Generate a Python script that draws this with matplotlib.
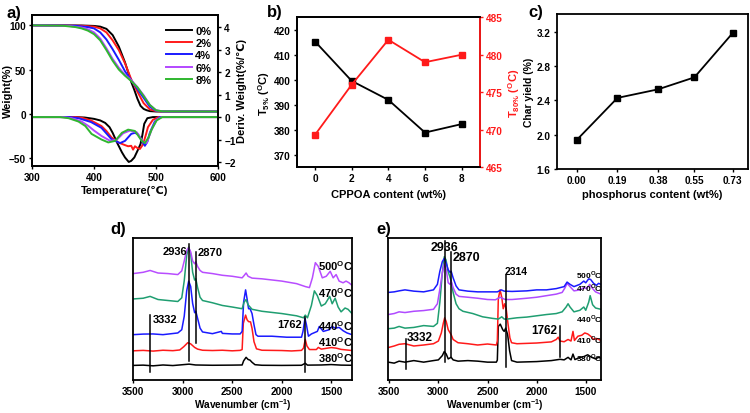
import matplotlib
matplotlib.use("Agg")
import matplotlib.pyplot as plt

plt.rcParams['font.family'] = ['Liberation Sans', 'DejaVu Sans']
plt.rcParams['font.weight'] = 'bold'
plt.rcParams['axes.labelweight'] = 'bold'
plt.rcParams['mathtext.fontset'] = 'custom'
plt.rcParams['mathtext.rm'] = 'Liberation Sans:bold'
plt.rcParams['mathtext.bf'] = 'Liberation Sans:bold'
plt.rcParams['axes.linewidth'] = 1.3

# ---------- panel a: TGA / DTG ----------
tga_labels = ['0%', '2%', '4%', '6%', '8%']
tga_colors = ['#000000', '#ff1a1a', '#1a1aff', '#b347ff', '#2fb72f']

w_temp = [
    [300, 380, 400, 410, 420, 430, 440, 450, 455, 460, 465, 470, 475, 480, 485, 490, 500, 600],
    [300, 380, 400, 410, 420, 430, 440, 450, 460, 470, 480, 490, 500, 510, 600],
    [300, 370, 390, 400, 410, 420, 430, 440, 450, 460, 470, 480, 490, 500, 510, 600],
    [300, 360, 380, 390, 400, 410, 420, 430, 440, 450, 460, 470, 480, 490, 500, 510, 600],
    [300, 350, 370, 380, 390, 400, 410, 420, 430, 440, 450, 460, 470, 480, 490, 500, 510, 600],
]
w_val = [
    [100, 99.8, 99.3, 98.5, 96, 89, 76, 58, 47, 36, 27, 17, 9, 5.5, 4, 3, 2.6, 2.5],
    [100, 99.5, 98.5, 96.5, 92, 83, 72, 57, 39, 25, 12, 5, 3, 2.6, 2.5],
    [100, 99.5, 98, 96.5, 92, 84, 73, 61, 48, 38, 28, 18, 8, 3.5, 2.7, 2.5],
    [100, 99.3, 97.5, 95.5, 92, 85, 74, 62, 52, 44, 38, 30, 21, 10, 4, 2.8, 2.5],
    [100, 99.5, 98, 96.5, 94, 90, 83, 72, 60, 50, 43, 37, 30, 20, 10, 4, 2.8, 2.5],
]
d_temp = [
    [300, 370, 385, 400, 410, 418, 425, 430, 437, 445, 450, 456, 460, 465, 471, 475, 478, 481, 486, 495, 600],
    [300, 370, 380, 395, 412, 420, 428, 439, 450, 455, 460, 463, 466, 470, 474, 479, 483, 487, 495, 504, 600],
    [300, 360, 375, 395, 412, 428, 442, 450, 460, 466, 471, 477, 482, 486, 490, 498, 506, 600],
    [300, 350, 364, 380, 391, 400, 412, 426, 437, 447, 458, 469, 479, 485, 493, 501, 509, 600],
    [300, 345, 359, 375, 386, 396, 412, 423, 434, 445, 455, 466, 477, 482, 488, 493, 501, 510, 600],
]
d_val = [
    [0, 0, -0.02, -0.08, -0.15, -0.26, -0.45, -0.7, -1.13, -1.57, -1.8, -2.0, -1.95, -1.8, -1.45, -1.2, -0.8, -0.3, -0.05, 0, 0],
    [0, 0, -0.03, -0.15, -0.4, -0.62, -0.9, -1.13, -1.25, -1.3, -1.28, -1.45, -1.3, -1.38, -1.42, -1.22, -0.85, -0.45, -0.12, 0, 0],
    [0, 0, -0.05, -0.22, -0.48, -0.98, -1.16, -1.06, -0.75, -0.7, -0.77, -1.05, -1.28, -1.1, -0.7, -0.2, 0, 0],
    [0, 0, -0.05, -0.2, -0.4, -0.6, -0.84, -1.06, -1.0, -0.72, -0.6, -0.68, -1.1, -1.15, -0.55, -0.12, 0, 0],
    [0, 0, -0.05, -0.2, -0.4, -0.75, -1.0, -1.13, -1.06, -0.7, -0.56, -0.62, -1.06, -1.16, -0.9, -0.55, -0.15, 0, 0],
]

# ---------- panel b ----------
cppoa = [0, 2, 4, 6, 8]
t5 = [415.3, 399.5, 391.9, 378.8, 382.2]
t80 = [469.3, 476.0, 482.0, 479.0, 480.0]

# ---------- panel c ----------
phos = [0.00, 0.19, 0.38, 0.55, 0.73]
phos_labels = ['0.00', '0.19', '0.38', '0.55', '0.73']
char = [1.94, 2.43, 2.53, 2.67, 3.19]

# ---------- panel d: FTIR ----------
ir_temps = ['380', '410', '440', '470', '500']
d_colors = ['#000000', '#ff1a1a', '#1a1aff', '#1f9e71', '#b84dff']
d_wn = [
    [3500, 3400, 3300, 3200, 3100, 3000, 2936, 2870, 2700, 2500, 2400, 2385, 2360, 2340, 2320, 2300, 2270, 2200, 2000, 1800, 1762, 1740, 1600, 1500, 1400, 1290],
    [3500, 3400, 3300, 3200, 3100, 3030, 2990, 2950, 2920, 2880, 2850, 2800, 2700, 2600, 2500, 2420, 2400, 2388, 2365, 2350, 2335, 2315, 2300, 2280, 2255, 2200, 2000, 1900, 1800, 1780, 1762, 1745, 1720, 1650, 1630, 1600, 1500, 1450, 1400, 1290],
    [3500, 3400, 3300, 3200, 3100, 3050, 3010, 2985, 2960, 2940, 2920, 2900, 2880, 2868, 2850, 2825, 2800, 2700, 2610, 2600, 2500, 2420, 2400, 2385, 2365, 2350, 2335, 2320, 2300, 2280, 2260, 2240, 2100, 1950, 1800, 1785, 1765, 1750, 1730, 1700, 1640, 1620, 1580, 1520, 1490, 1460, 1420, 1380, 1340, 1290],
    [3500, 3400, 3330, 3250, 3150, 3050, 3010, 2985, 2960, 2940, 2920, 2900, 2880, 2868, 2850, 2825, 2800, 2700, 2600, 2500, 2400, 2380, 2360, 2340, 2300, 2200, 2000, 1850, 1780, 1762, 1740, 1700, 1670, 1640, 1600, 1560, 1515, 1490, 1460, 1430, 1400, 1360, 1330, 1290],
    [3500, 3400, 3330, 3250, 3150, 3050, 3010, 2985, 2960, 2940, 2920, 2900, 2880, 2868, 2850, 2825, 2800, 2700, 2600, 2500, 2400, 2380, 2360, 2340, 2300, 2200, 2000, 1850, 1760, 1720, 1690, 1660, 1630, 1590, 1550, 1510, 1480, 1450, 1420, 1380, 1350, 1320, 1290],
]
d_ab = [
    [10.3, 10.5, 10.0, 10.6, 10.2, 10.8, 11.2, 10.6, 10.4, 10.5, 10.6, 13.5, 16.0, 14.5, 14.0, 12.5, 10.8, 10.4, 10.3, 10.4, 11.8, 10.5, 10.6, 10.9, 10.5, 10.4],
    [20.6, 20.9, 20.4, 21.0, 20.7, 21.2, 23.5, 26.3, 25.5, 23.0, 21.8, 21.0, 20.8, 21.0, 20.6, 20.9, 21.5, 40.0, 45.8, 42.5, 41.2, 41.0, 36.5, 27.0, 22.0, 21.0, 20.8, 20.5, 20.9, 22.5, 28.6, 24.0, 21.5, 21.5, 23.0, 21.8, 22.9, 22.5, 21.6, 20.8],
    [32.0, 32.4, 32.5, 32.0, 32.8, 33.2, 35.5, 45.0, 63.0, 69.8, 66.0, 54.0, 47.5, 48.5, 43.5, 36.6, 33.9, 32.7, 34.3, 32.9, 32.5, 32.5, 34.3, 54.9, 63.6, 57.2, 50.3, 50.3, 46.9, 38.9, 32.0, 30.9, 30.9, 30.2, 30.2, 34.3, 43.5, 38.9, 30.9, 32.5, 34.3, 37.8, 34.3, 35.5, 37.8, 36.6, 37.1, 34.8, 33.2, 32.0],
    [57.2, 57.7, 59.0, 56.8, 56.1, 55.4, 58.0, 70.0, 88.0, 93.8, 89.0, 76.0, 70.5, 71.4, 65.2, 58.4, 56.1, 54.5, 52.6, 51.5, 50.3, 54.9, 56.8, 53.1, 49.9, 48.5, 46.9, 45.3, 43.9, 45.8, 43.9, 52.6, 62.9, 59.5, 52.2, 53.8, 59.0, 53.8, 57.7, 51.5, 48.1, 50.8, 49.9, 46.9],
    [75.1, 76.0, 77.3, 75.5, 75.1, 74.4, 77.0, 84.0, 91.5, 93.4, 90.5, 84.0, 82.0, 83.5, 80.1, 77.3, 76.0, 75.1, 73.9, 73.2, 72.1, 73.7, 75.5, 73.2, 71.9, 71.4, 69.8, 68.0, 65.9, 65.2, 72.1, 82.8, 80.1, 72.1, 73.2, 76.7, 72.1, 74.4, 69.8, 68.6, 69.8, 68.6, 66.8],
]

# ---------- panel e: FTIR ----------
e_colors = ['#000000', '#ff1a1a', '#1f9e71', '#b04bff', '#1a1aff']
e_wn = [
    [3510, 3450, 3400, 3340, 3250, 3150, 3050, 3000, 2960, 2940, 2920, 2900, 2870, 2850, 2800, 2700, 2600, 2500, 2410, 2400, 2390, 2370, 2345, 2330, 2315, 2295, 2275, 2255, 2200, 2000, 1850, 1762, 1720, 1680, 1650, 1630, 1610, 1560, 1520, 1480, 1440, 1400, 1370, 1345],
    [3510, 3450, 3400, 3340, 3250, 3150, 3050, 3000, 2970, 2950, 2936, 2920, 2900, 2870, 2850, 2800, 2700, 2600, 2500, 2410, 2400, 2390, 2372, 2355, 2340, 2325, 2310, 2290, 2272, 2255, 2200, 2000, 1850, 1800, 1780, 1762, 1720, 1680, 1650, 1630, 1615, 1580, 1540, 1510, 1480, 1450, 1420, 1390, 1345],
    [3510, 3450, 3400, 3340, 3250, 3150, 3050, 3010, 2985, 2960, 2940, 2922, 2902, 2885, 2870, 2850, 2820, 2790, 2750, 2650, 2550, 2450, 2390, 2370, 2355, 2330, 2300, 2200, 2100, 2000, 1900, 1800, 1740, 1700, 1680, 1660, 1620, 1560, 1520, 1500, 1470, 1455, 1430, 1400, 1370, 1345],
    [3510, 3450, 3400, 3340, 3250, 3150, 3050, 3010, 2985, 2960, 2940, 2920, 2900, 2882, 2870, 2850, 2820, 2790, 2700, 2600, 2500, 2420, 2390, 2370, 2350, 2320, 2250, 2100, 2000, 1900, 1800, 1740, 1710, 1690, 1660, 1620, 1560, 1520, 1490, 1460, 1430, 1400, 1370, 1345],
    [3510, 3450, 3400, 3340, 3250, 3150, 3050, 3010, 2985, 2960, 2940, 2920, 2900, 2882, 2870, 2850, 2820, 2790, 2700, 2600, 2500, 2400, 2360, 2330, 2250, 2100, 2000, 1900, 1800, 1720, 1690, 1660, 1620, 1560, 1520, 1500, 1470, 1450, 1420, 1390, 1370, 1345],
]
e_ab = [
    [12.6, 11.9, 13.3, 12.6, 13.7, 12.6, 13.7, 14.2, 17.2, 20.1, 18.3, 14.9, 16.0, 14.2, 13.3, 13.7, 13.3, 12.6, 12.6, 14.0, 37.8, 39.4, 35.5, 34.3, 36.6, 32.0, 20.6, 13.7, 12.6, 13.0, 13.7, 14.6, 14.2, 16.0, 14.2, 18.3, 14.4, 16.0, 16.5, 17.8, 16.0, 14.9, 16.0, 15.3],
    [22.9, 24.0, 25.2, 25.6, 24.0, 24.7, 25.6, 27.5, 33.2, 40.0, 43.9, 41.2, 35.5, 32.0, 28.6, 26.3, 25.6, 24.7, 25.4, 24.7, 27.5, 57.2, 63.6, 58.4, 50.3, 53.8, 50.3, 38.9, 29.7, 26.3, 25.6, 26.1, 26.9, 28.6, 30.2, 27.5, 27.0, 28.6, 27.5, 34.3, 27.9, 30.9, 31.6, 33.2, 32.5, 30.9, 28.6, 29.3, 27.9],
    [36.2, 36.6, 37.8, 36.6, 37.1, 38.4, 37.8, 40.0, 54.9, 75.5, 87.0, 84.7, 76.7, 73.2, 69.8, 61.8, 53.8, 50.3, 48.5, 46.9, 44.6, 43.5, 43.0, 43.9, 44.6, 43.0, 43.0, 43.9, 44.4, 45.3, 46.2, 46.9, 48.1, 51.5, 53.8, 51.5, 48.1, 49.2, 51.5, 49.2, 54.9, 59.5, 53.1, 50.8, 50.3, 49.9],
    [46.2, 46.9, 48.1, 47.6, 48.5, 49.0, 49.9, 53.8, 64.1, 75.5, 81.9, 77.8, 68.6, 67.5, 69.8, 65.2, 60.6, 59.0, 58.4, 57.7, 56.8, 56.6, 57.7, 58.4, 57.7, 56.8, 56.8, 57.7, 58.4, 59.5, 60.6, 61.8, 65.2, 68.2, 65.9, 62.9, 63.6, 65.2, 64.5, 67.5, 64.5, 62.2, 61.3, 60.6],
    [61.8, 62.2, 62.9, 63.6, 62.7, 62.2, 63.6, 67.5, 76.7, 83.5, 85.8, 82.4, 77.8, 76.0, 76.7, 72.1, 66.4, 63.6, 62.7, 62.2, 62.2, 62.2, 63.6, 62.7, 62.5, 62.9, 63.6, 63.6, 64.5, 65.9, 69.1, 67.5, 65.9, 67.5, 69.8, 68.6, 71.4, 70.9, 68.2, 66.8, 68.2, 67.5],
]

TICK = 7.2
LAB = 8


def ir_marks(ax, marks):
    # vertical annotation lines: (wavenumber, bottom, top)
    for wn, lo, hi in marks:
        ax.plot([wn, wn], [lo, hi], color='black', lw=1.1)


fig = plt.figure(figsize=(7.5, 4.14), dpi=100)

# ---- a ----
ax_a = fig.add_axes([0.0427, 0.5966, 0.248, 0.3655])
ax_a2 = ax_a.twinx()
for i in range(5):
    ax_a.plot(w_temp[i], w_val[i], color=tga_colors[i], lw=1.4, label=tga_labels[i])
    ax_a2.plot(d_temp[i], d_val[i], color=tga_colors[i], lw=1.4)
ax_a.set_xlim(300, 600)
ax_a.set_ylim(-59, 112)
ax_a2.set_ylim(-2.18, 4.56)
ax_a.set_xticks([300, 400, 500, 600])
ax_a.set_yticks([-50, 0, 50, 100])
ax_a2.set_yticks([-2, -1, 0, 1, 2, 3, 4])
for ax in (ax_a, ax_a2):
    ax.tick_params(labelsize=TICK, length=2.5, width=1, pad=2)
ax_a.set_xlabel('Temperature(℃)', fontsize=LAB, labelpad=2)
ax_a.set_ylabel('Weight(%)', fontsize=LAB)
ax_a.yaxis.set_label_coords(-0.10, 0.5)
ax_a2.set_ylabel('Deriv. Weight(%/℃)', fontsize=LAB, labelpad=1)
ax_a.legend(loc='upper right', bbox_to_anchor=(1.0, 0.97), frameon=False, fontsize=LAB,
            handlelength=2.3, handletextpad=0.3, labelspacing=0.2, borderaxespad=0.2)

# ---- b ----
ax_b = fig.add_axes([0.3956, 0.5942, 0.2444, 0.3616])
ax_b2 = ax_b.twinx()
ax_b.plot(cppoa, t5, color='black', marker='s', ms=4, lw=1.3)
ax_b2.plot(cppoa, t80, color='#ff1a1a', marker='s', ms=4, lw=1.3)
ax_b.set_xlim(-1, 9)
ax_b.set_ylim(365, 425)
ax_b2.set_ylim(465, 485)
ax_b.set_xticks(cppoa)
ax_b.set_yticks([370, 380, 390, 400, 410, 420])
ax_b2.set_yticks([465, 470, 475, 480, 485])
ax_b.tick_params(labelsize=TICK, length=2.5, width=1, pad=2)
ax_b2.tick_params(labelsize=TICK, length=2.5, width=1, pad=2, colors='#ff1a1a')
ax_b2.spines['right'].set_color('#ff1a1a')
ax_b.set_xlabel('CPPOA content (wt%)', fontsize=LAB, labelpad=4)
ax_b.set_ylabel(r'T$_{\mathbf{5\%}}$ ($^{\mathbf{O}}$C)', fontsize=LAB, labelpad=1)
ax_b2.set_ylabel(r'T$_{\mathbf{80\%}}$ ($^{\mathbf{O}}$C)', fontsize=LAB, labelpad=2, color='#ff1a1a')

# ---- c ----
ax_c = fig.add_axes([0.7423, 0.5894, 0.2551, 0.3744])
ax_c.plot(phos, char, color='black', marker='s', ms=4, lw=1.3)
ax_c.set_xlim(-0.094, 0.801)
ax_c.set_ylim(1.6, 3.41)
ax_c.set_xticks(phos)
ax_c.set_xticklabels(phos_labels)
ax_c.set_yticks([1.6, 2.0, 2.4, 2.8, 3.2])
ax_c.tick_params(labelsize=TICK, length=2.5, width=1, pad=2)
ax_c.set_xlabel('phosphorus content (wt%)', fontsize=LAB, labelpad=3)
ax_c.set_ylabel('Char yield (%)', fontsize=7.5, labelpad=2)

# ---- d ----
ax_d = fig.add_axes([0.1777, 0.0797, 0.2916, 0.3423])
for i in range(5):
    ax_d.plot(d_wn[i], d_ab[i], color=d_colors[i], lw=1.1)
ir_marks(ax_d, [(3332, 5.7, 45.8), (2936, 13.7, 96.1), (2870, 26.3, 90.4), (1762, 5.7, 44.6)])
ax_d.set_xlim(3500, 1290)
ax_d.set_ylim(0, 100)
ax_d.set_yticks([])
ax_d.set_xticks([3500, 3000, 2500, 2000, 1500])
ax_d.tick_params(labelsize=TICK, length=2.5, width=1, pad=1.5)
ax_d.set_xlabel(r'Wavenumber (cm$^{\mathbf{-1}}$)', fontsize=7.3)
ax_d.xaxis.set_label_coords(0.5, -0.112)
ax_d.text(2950, 91, '2936', fontsize=LAB, ha='right', va='center')
ax_d.text(2850, 90, '2870', fontsize=LAB, ha='left', va='center')
ax_d.text(3300, 43, '3332', fontsize=LAB, ha='left', va='center')
ax_d.text(1790, 39.5, '1762', fontsize=LAB, ha='right', va='center')
d_lab_y = [16, 27.5, 38.9, 61.8, 81.2]
for t, y in zip(ir_temps, d_lab_y):
    ax_d.text(1630, y, t + r'$^{\mathbf{O}}$C', fontsize=LAB, ha='left', va='center')

# ---- e ----
ax_e = fig.add_axes([0.5177, 0.0797, 0.2836, 0.3423])
for i in range(5):
    ax_e.plot(e_wn[i], e_ab[i], color=e_colors[i], lw=1.1)
ir_marks(ax_e, [(3332, 8.0, 28.6), (2936, 12.6, 98.4), (2870, 16.0, 90.4), (2314, 9.2, 74.4), (1762, 16.0, 37.8)])
ax_e.set_xlim(3510, 1345)
ax_e.set_ylim(0, 100)
ax_e.set_yticks([])
ax_e.set_xticks([3500, 3000, 2500, 2000, 1500])
ax_e.tick_params(labelsize=TICK, length=2.5, width=1, pad=1.5)
ax_e.set_xlabel(r'Wavenumber (cm$^{\mathbf{-1}}$)', fontsize=7.3)
ax_e.xaxis.set_label_coords(0.5, -0.112)
ax_e.text(2936, 94, '2936', fontsize=9, ha='center', va='center')
ax_e.text(2860, 87, '2870', fontsize=9, ha='left', va='center')
ax_e.text(2330, 77, '2314', fontsize=7.5, ha='left', va='center')
ax_e.text(3320, 30.2, '3332', fontsize=8.5, ha='left', va='center')
ax_e.text(1790, 35.5, '1762', fontsize=8.5, ha='right', va='center')
e_lab_y = [16, 29, 43.9, 65.9, 75]
for t, y in zip(ir_temps, e_lab_y):
    ax_e.text(1600, y, t + r'$^{\mathbf{O}}$C', fontsize=6, ha='left', va='center')

# panel letters
fig.text(0.009, 0.985, 'a)', fontsize=12, fontweight='bold', va='top')
fig.text(0.356, 0.988, 'b)', fontsize=12, fontweight='bold', va='top')
fig.text(0.704, 0.988, 'c)', fontsize=12, fontweight='bold', va='top')
fig.text(0.147, 0.464, 'd)', fontsize=12, fontweight='bold', va='top')
fig.text(0.502, 0.464, 'e)', fontsize=12, fontweight='bold', va='top')

fig.savefig('out.png', dpi=100)
